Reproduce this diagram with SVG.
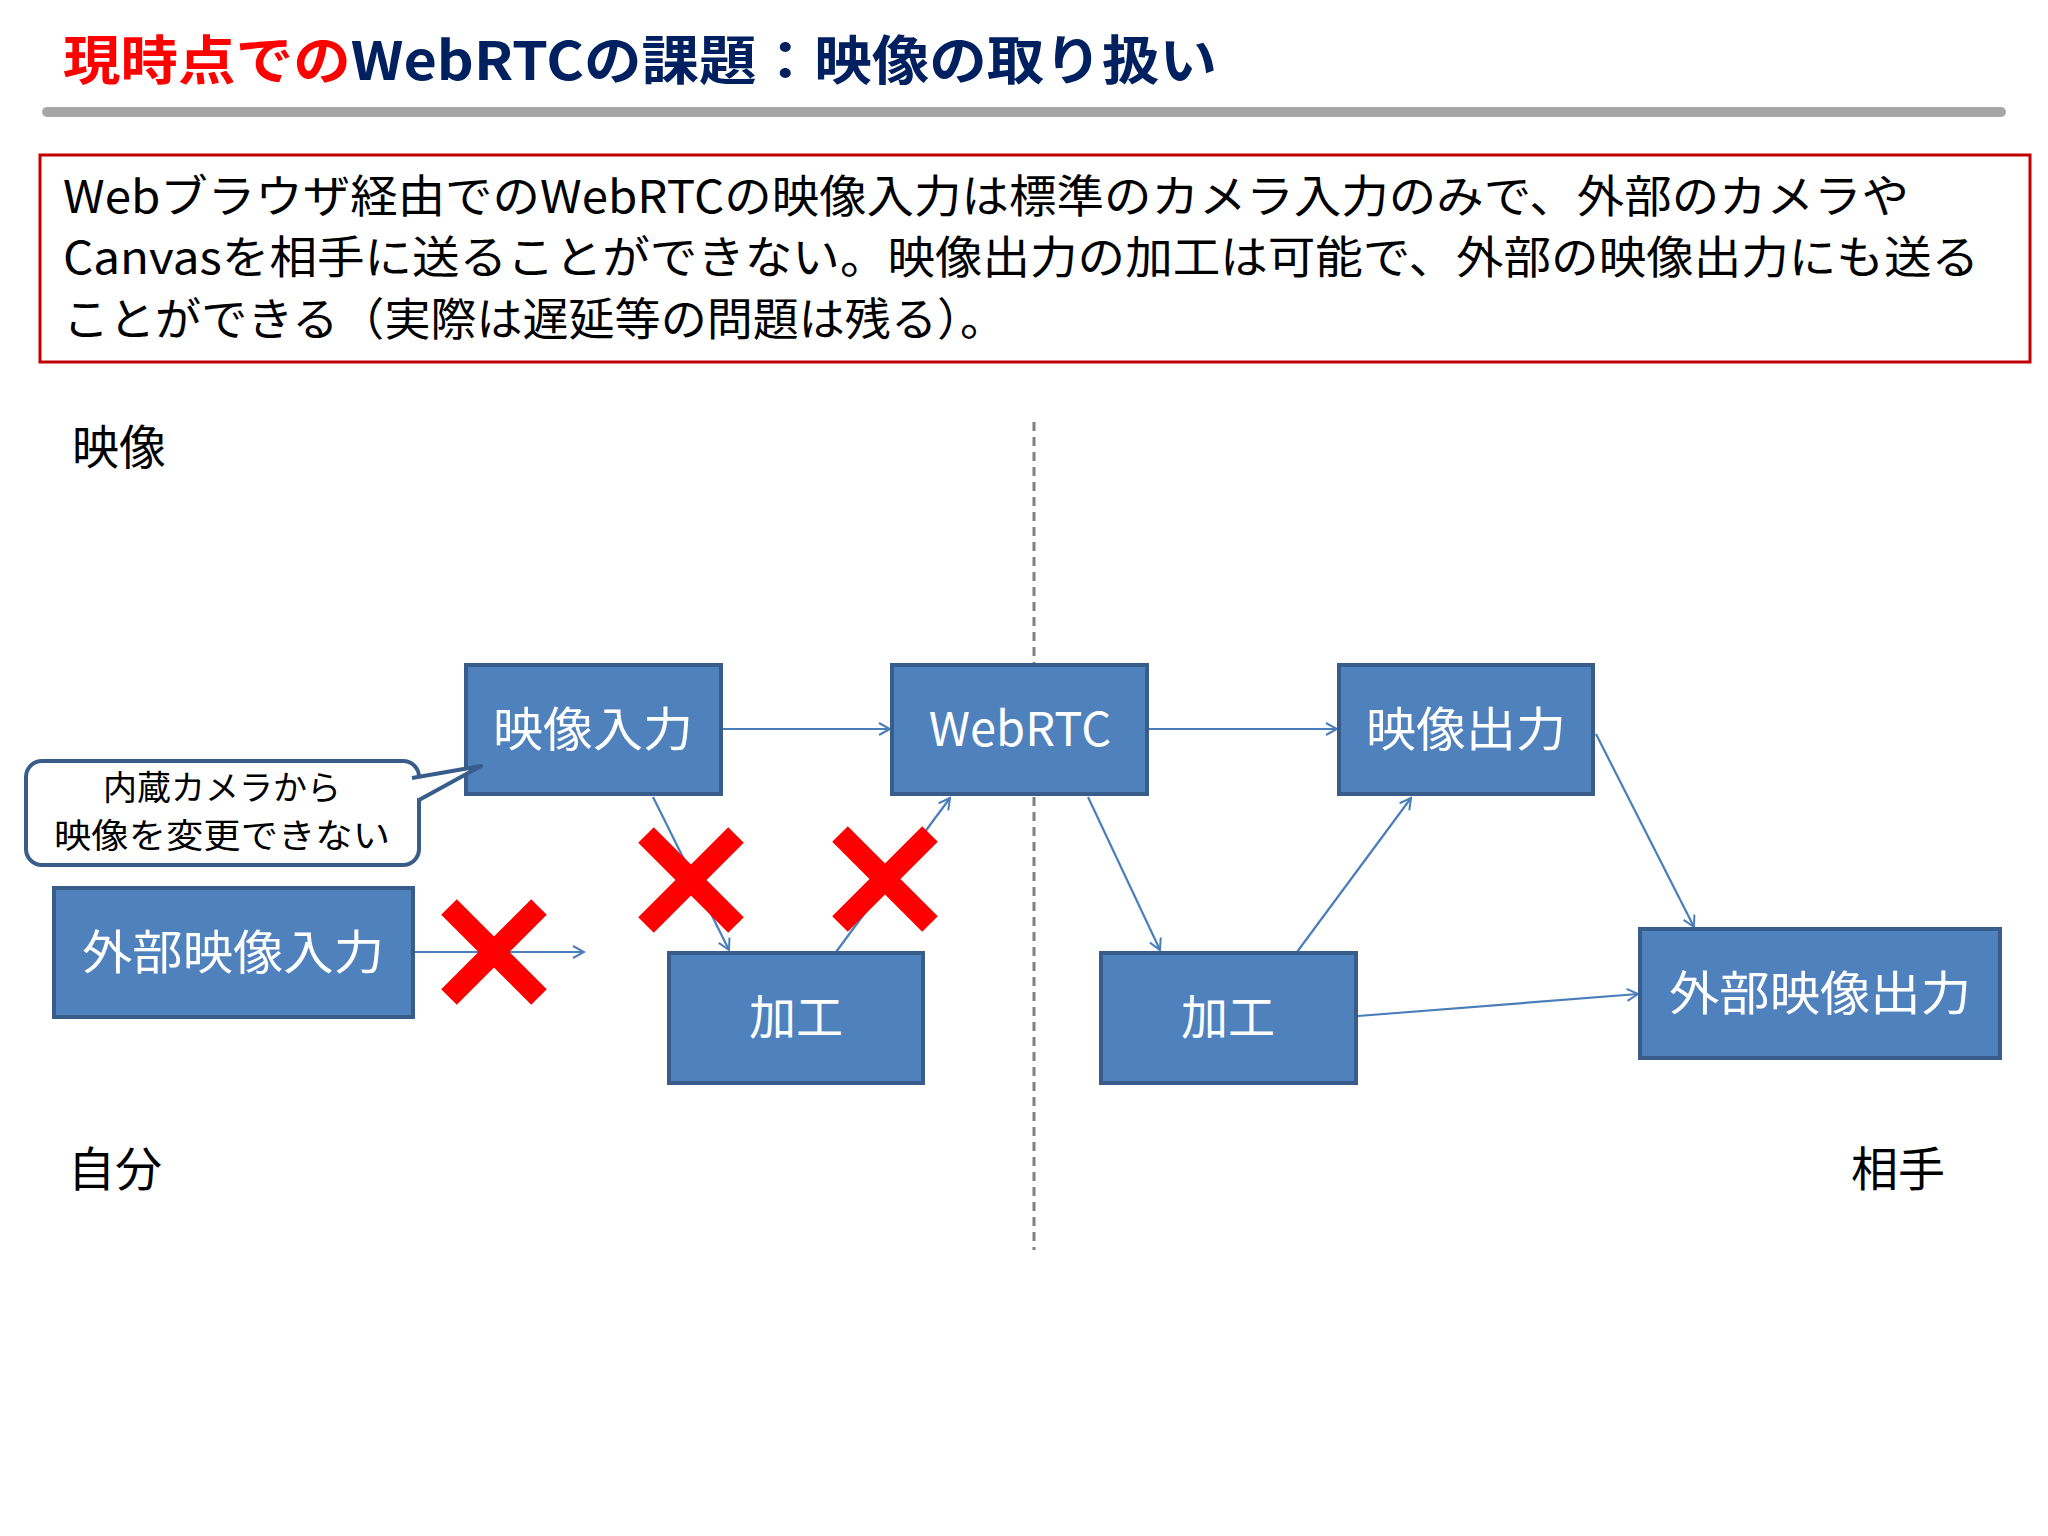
<svg xmlns="http://www.w3.org/2000/svg" width="2048" height="1536" viewBox="0 0 2048 1536">
<defs>
<marker id="ah" markerWidth="14" markerHeight="14" refX="12" refY="7" orient="auto" markerUnits="userSpaceOnUse"><path d="M1,1 L12,7 L1,13" fill="none" stroke="#4A7EBB" stroke-width="2"/></marker>
</defs>
<style>
text{font-family:"Noto Sans CJK JP","Noto Sans",sans-serif}
.box{fill:#4F81BD;stroke:#385D8A;stroke-width:4}
.bt{fill:#fff;font-size:47px;text-anchor:middle}
.c{stroke:#4A7EBB;stroke-width:2.2;fill:none;marker-end:url(#ah)}
.x{stroke:#FF0000;stroke-width:22}
.lab{font-size:47px;fill:#000}
.body{font-size:45px;fill:#000}
</style>
<rect width="2048" height="1536" fill="#fff"/>
<text x="63" y="80" font-size="53" font-weight="bold" textLength="1154" lengthAdjust="spacingAndGlyphs"><tspan fill="#FF0000">現時点での</tspan><tspan fill="#002060">WebRTCの課題：映像の取り扱い</tspan></text>
<rect x="42" y="107" width="1964" height="10" rx="5" fill="#A6A6A6"/>
<rect x="40" y="155" width="1990" height="207" fill="#fff" stroke="#C00000" stroke-width="3"/>
<text class="body" x="63" y="213" textLength="1846" lengthAdjust="spacingAndGlyphs">Webブラウザ経由でのWebRTCの映像入力は標準のカメラ入力のみで、外部のカメラや</text>
<text class="body" x="63" y="274" textLength="1916" lengthAdjust="spacingAndGlyphs">Canvasを相手に送ることができない。映像出力の加工は可能で、外部の映像出力にも送る</text>
<text class="body" x="63" y="336" textLength="943" lengthAdjust="spacingAndGlyphs">ことができる（実際は遅延等の問題は残る）。</text>
<text class="lab" x="72" y="464">映像</text>
<text class="lab" x="68" y="1186">自分</text>
<text class="lab" x="1851" y="1186">相手</text>
<line x1="1034" y1="422" x2="1034" y2="1250" stroke="#808080" stroke-width="3" stroke-dasharray="9,6"/>
<g id="connectors">
<line class="c" x1="721" y1="729" x2="890" y2="729"/>
<line class="c" x1="1147" y1="729" x2="1337" y2="729"/>
<line class="c" x1="1596" y1="734" x2="1694" y2="927"/>
<line class="c" x1="1088" y1="797" x2="1160" y2="950"/>
<line class="c" x1="1297" y1="952" x2="1411" y2="798"/>
<line class="c" x1="1358" y1="1016" x2="1638" y2="994"/>
<line class="c" x1="413" y1="952" x2="584" y2="952"/>
<line class="c" x1="653" y1="797" x2="729" y2="950"/>
<line class="c" x1="836" y1="952" x2="950" y2="798"/>
</g>
<g id="n1"><rect class="box" x="466" y="665" width="255" height="129"/><text class="bt" x="593" y="746" textLength="200" lengthAdjust="spacingAndGlyphs">映像入力</text></g>
<g id="n2"><rect class="box" x="892" y="665" width="255" height="129"/><text class="bt" x="1020" y="746">WebRTC</text></g>
<g id="n3"><rect class="box" x="1339" y="665" width="254" height="129"/><text class="bt" x="1466" y="746" textLength="200" lengthAdjust="spacingAndGlyphs">映像出力</text></g>
<g id="n4"><rect class="box" x="54" y="888" width="359" height="129"/><text class="bt" x="233" y="969" textLength="302" lengthAdjust="spacingAndGlyphs">外部映像入力</text></g>
<g id="n5"><rect class="box" x="669" y="953" width="254" height="130"/><text class="bt" x="796" y="1034">加工</text></g>
<g id="n6"><rect class="box" x="1101" y="953" width="255" height="130"/><text class="bt" x="1228" y="1034">加工</text></g>
<g id="n7"><rect class="box" x="1640" y="929" width="360" height="129"/><text class="bt" x="1820" y="1010" textLength="302" lengthAdjust="spacingAndGlyphs">外部映像出力</text></g>
<g id="callout">
<rect x="26" y="761" width="393" height="104" rx="16" fill="#fff" stroke="#385D8A" stroke-width="4"/>
<path d="M412,778 L481,766 L419,800" fill="#fff" stroke="#385D8A" stroke-width="4" stroke-linejoin="round"/>
<rect x="410" y="780" width="8" height="18" fill="#fff"/>
<text x="222" y="800" font-size="34" text-anchor="middle">内蔵カメラから</text>
<text x="222" y="848" font-size="34" text-anchor="middle" textLength="336" lengthAdjust="spacingAndGlyphs">映像を変更できない</text>
</g>
<g id="crosses">
<path class="x" d="M449,907 L539,997 M539,907 L449,997"/>
<path class="x" d="M646,835 L736,925 M736,835 L646,925"/>
<path class="x" d="M840,834 L930,924 M930,834 L840,924"/>
</g>
</svg>
